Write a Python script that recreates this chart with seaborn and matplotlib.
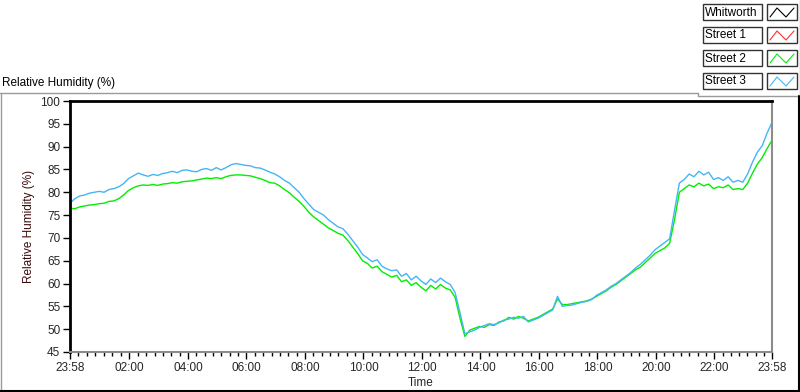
import numpy as np
import pandas as pd
import matplotlib
matplotlib.use("Agg")
import matplotlib.pyplot as plt
import seaborn as sns
from matplotlib.lines import Line2D
from matplotlib.patches import Rectangle

# ====== DATA ======
# one reading every 10 min, minutes after the 23:58 start
minutes = list(range(0, 1441, 10))

street2 = [
    76.5, 76.4, 76.8, 77.0, 77.2, 77.3,   # 23:58
    77.5, 77.6, 78.0, 78.1, 78.6, 79.4,   # 00:58
    80.4, 81.0, 81.4, 81.6, 81.5, 81.7,   # 01:58
    81.5, 81.8, 81.9, 82.1, 82.0, 82.3,   # 02:58
    82.4, 82.5, 82.7, 82.9, 83.1, 83.0,   # 03:58
    83.2, 83.0, 83.4, 83.7, 83.8, 83.8,   # 04:58
    83.7, 83.6, 83.3, 83.0, 82.6, 82.1,   # 05:58
    82.0, 81.4, 80.6, 79.9, 78.9, 78.0,   # 06:58
    76.9, 75.6, 74.6, 73.8, 73.0, 72.2,   # 07:58
    71.6, 71.0, 70.6, 69.4, 68.0, 66.6,   # 08:58
    65.0, 64.4, 63.4, 63.8, 62.6, 62.0,   # 09:58
    61.4, 61.8, 60.4, 60.8, 59.6, 60.2,   # 10:58
    59.2, 58.4, 59.6, 58.8, 59.8, 59.0,   # 11:58
    58.6, 57.0, 52.4, 48.4, 49.8, 50.2,   # 12:58
    50.6, 50.4, 51.0, 50.8, 51.6, 51.8,   # 13:58
    52.6, 52.2, 52.8, 52.4, 51.8, 52.2,   # 14:58
    52.6, 53.2, 53.8, 54.4, 56.6, 55.4,   # 15:58
    55.4, 55.6, 55.8, 56.0, 56.2, 56.6,   # 16:58
    57.2, 57.8, 58.4, 59.2, 59.8, 60.6,   # 17:58
    61.4, 62.2, 63.0, 63.6, 64.6, 65.6,   # 18:58
    66.6, 67.2, 67.8, 68.8, 74.0, 80.0,   # 19:58
    80.8, 81.6, 81.2, 82.0, 81.4, 81.8,   # 20:58
    80.8, 81.2, 81.0, 81.6, 80.6, 80.8,   # 21:58
    80.6, 82.0, 84.2, 86.2, 87.6, 89.6,   # 22:58
    91.4,                                 # 23:58
]

street3 = [
    77.6, 78.6, 79.2, 79.4, 79.8, 80.0,
    80.2, 80.0, 80.6, 80.8, 81.2, 81.9,
    83.0, 83.6, 84.2, 83.8, 83.5, 83.9,
    83.7, 84.1, 84.3, 84.6, 84.3, 84.8,
    84.9, 84.6, 84.5, 85.0, 85.2, 84.8,
    85.4, 84.9, 85.4, 86.0, 86.3, 86.1,
    85.9, 85.8, 85.4, 85.3, 84.9, 84.4,
    84.0, 83.4, 82.6, 82.0, 81.0, 80.0,
    78.6, 77.4, 76.2, 75.6, 75.0, 74.0,
    73.2, 72.4, 72.0, 70.8, 69.4, 68.0,
    66.4, 65.6, 64.8, 65.2, 63.8, 63.2,
    62.8, 63.0, 61.6, 62.2, 60.8, 61.6,
    60.6, 59.8, 61.0, 60.2, 61.2, 60.4,
    59.8, 58.0, 53.6, 49.0, 49.4, 49.8,
    50.4, 50.8, 51.2, 51.0, 51.4, 52.0,
    52.2, 52.6, 52.4, 52.8, 51.6, 52.0,
    52.4, 53.0, 53.6, 54.2, 57.2, 55.0,
    55.2, 55.3, 55.6, 55.9, 56.1, 56.5,
    57.4, 58.0, 58.6, 59.4, 60.0, 60.8,
    61.6, 62.4, 63.4, 64.2, 65.2, 66.2,
    67.4, 68.2, 69.0, 69.8, 76.0, 82.0,
    82.8, 84.0, 83.4, 84.6, 83.8, 84.4,
    82.8, 83.2, 82.6, 83.4, 82.2, 82.6,
    82.2, 84.0, 86.6, 88.8, 90.2, 93.0,
    95.3,
]

series_names = ["Whitworth", "Street 1", "Street 2", "Street 3"]
series_colors = ["#000000", "#ff3030", "#00ee00", "#45b5f5"]

x_tick_labels = ["23:58", "02:00", "04:00", "06:00", "08:00", "10:00", "12:00",
                 "14:00", "16:00", "18:00", "20:00", "22:00", "23:58"]
y_ticks = list(range(45, 101, 5))
# ===========================================

hours = np.array(minutes) / 60.0
df = pd.concat([
    pd.DataFrame({"hours": hours, "rh": street2, "series": "Street 2"}),
    pd.DataFrame({"hours": hours, "rh": street3, "series": "Street 3"}),
])

def to_hours(lbl, i):
    # hours after the 23:58 start
    h, m = map(int, lbl.split(":"))
    t = h * 60 + m - (23 * 60 + 58)
    if t <= 0 and i > 0:
        t += 24 * 60
    return t / 60.0

x_ticks = [to_hours(l, i) for i, l in enumerate(x_tick_labels)]

sns.set_style("white")
plt.rcParams["font.family"] = ["Liberation Sans", "DejaVu Sans"]

W, H = 800, 392
fig = plt.figure(figsize=(W / 100, H / 100), dpi=100)
ax = fig.add_axes([70 / W, 1 - 352 / H, (772 - 70) / W, (352 - 101) / H])

sns.lineplot(data=df, x="hours", y="rh", hue="series",
             palette={"Street 2": series_colors[2], "Street 3": series_colors[3]},
             hue_order=["Street 2", "Street 3"], linewidth=1.0, legend=False,
             ax=ax, estimator=None)

ax.set_xlim(x_ticks[0], x_ticks[-1])
ax.set_ylim(45, 100)
ax.set_yticks(y_ticks)
ax.set_yticklabels([str(v) for v in y_ticks], fontsize=8.5)
ax.set_xticks(x_ticks)
ax.set_xticklabels(x_tick_labels, fontsize=8.5)

minor = []
for a, b in zip(x_ticks[:-1], x_ticks[1:]):
    minor += list(np.linspace(a, b, 8)[1:-1])
ax.set_xticks(minor, minor=True)

ax.tick_params(axis="both", which="major", direction="out", length=5, width=1,
               color="#000000", pad=2, left=True, bottom=True)
ax.tick_params(axis="x", which="minor", direction="out", length=3, width=1,
               color="#000000", bottom=True)

ax.set_xlabel("Time", fontsize=8.5, labelpad=2)
ax.set_ylabel("Relative Humidity (%)", fontsize=8.5, color="#3a0a0a", labelpad=4)

for side in ["left", "top"]:
    ax.spines[side].set_color("#000000")
    ax.spines[side].set_linewidth(2)
for side in ["right", "bottom"]:
    ax.spines[side].set_color("#8c8c8c")
    ax.spines[side].set_linewidth(1.5)

# panel frame lines
def px_line(x0, y0, x1, y1, color, lw=1.0):
    fig.add_artist(Line2D([x0 / W, x1 / W], [1 - y0 / H, 1 - y1 / H],
                          color=color, lw=lw, transform=fig.transFigure))

px_line(0, 92.5, 698, 92.5, "#9a9a9a")
px_line(698, 92.5, 698, 95.5, "#9a9a9a")
px_line(698, 95.5, 800, 95.5, "#9a9a9a")
px_line(0.5, 92.5, 0.5, 391, "#9a9a9a")
px_line(798.5, 96, 798.5, 391, "#000000", 1.5)
px_line(0, 390.5, 800, 390.5, "#000000", 1.5)
px_line(799.5, 0, 799.5, 95, "#9a9a9a")

fig.text(2 / W, 1 - 83 / H, "Relative Humidity (%)", fontsize=8.5,
         ha="left", va="center", color="#000000")

# legend: name boxes + line icons
for i, (name, col) in enumerate(zip(series_names, series_colors)):
    top = 4 + i * 23
    fig.add_artist(Rectangle((703 / W, 1 - (top + 16) / H), 59 / W, 16 / H,
                             transform=fig.transFigure, facecolor="white",
                             edgecolor="#333333", lw=1))
    fig.text(705 / W, 1 - (top + 8.5) / H, name, fontsize=8.5, ha="left",
             va="center", color="#000000")
    fig.add_artist(Rectangle((767 / W, 1 - (top + 16) / H), 30 / W, 16 / H,
                             transform=fig.transFigure, facecolor="white",
                             edgecolor="#333333", lw=1))
    zx = [770, 777, 786, 794]
    zy = [top + 13, top + 4, top + 13, top + 4]
    fig.add_artist(Line2D([v / W for v in zx], [1 - v / H for v in zy],
                          color=col, lw=0.8, transform=fig.transFigure))

fig.savefig("out.png", dpi=100)
